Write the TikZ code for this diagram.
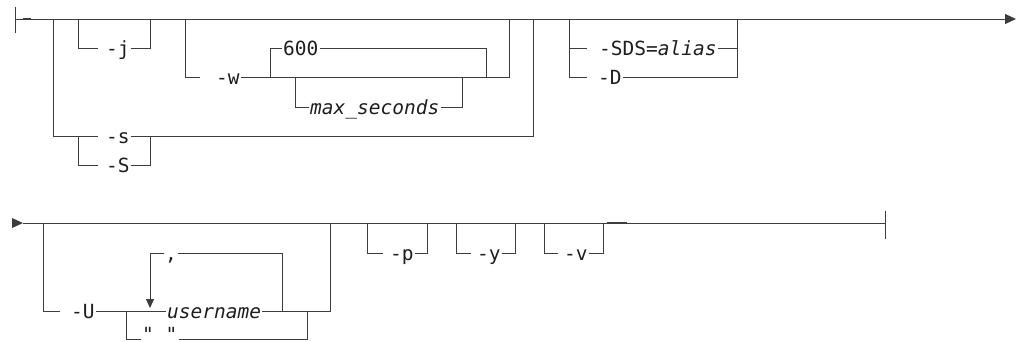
\documentclass[tikz,border=0pt]{standalone}
\usepackage{fontspec}
\setmonofont{DejaVu Sans Mono}
\usepackage{tikz}
\usetikzlibrary{arrows.meta, positioning, calc}
\definecolor{rline}{HTML}{3C3C3C}
\definecolor{rtext}{HTML}{1E1E1E}
\tikzset{
  rail/.style={draw=rline, line width=1pt},
  tok/.style={font=\ttfamily\fontsize{19.5}{22}\selectfont, text=rtext, anchor=west,
    inner xsep=1pt, inner ysep=0pt, text height=14pt, text depth=0pt},
  var/.style={tok, font=\ttfamily\itshape\fontsize{19.5}{22}\selectfont},
}
% flag text with the usual gap before the dash
\newcommand{\flg}[2][7]{\hspace*{#1pt}#2}

\begin{document}
\begin{tikzpicture}[x=1pt, y=-1pt]
  \useasboundingbox (0,0) rectangle (1021,341);

  % ---- first line
  \coordinate (r1) at (15,19);
  \coordinate (e1) at (1016,19);
  \draw[rail] (r1) ++(0,-12) -- ++(0,26);
  \draw[rail, -{Triangle[length=11pt, width=10pt]}] (r1) -- (e1);
  \draw[rline, line width=2pt] (23,19) -- (31,19);
  \foreach \n/\x in {a1/53, a2/78, a3/150, a4/185, a5/509, a6/533, a7/569, a8/737}
    \coordinate (\n) at (\x,19);

  \node[tok] (j) at (98,48) {\flg{-j}};
  \node[tok] (s) at (98,136) {\flg{-s}};
  \node[tok] (S) at (98,165) {\flg{-S}};
  \node[tok] (w) at (200,77) {\flg[15]{-w}};
  \node[tok] (dflt) at (282,48) {600};
  \node[var] (maxs) at (309,107) {max\_seconds};
  \node[tok] (sds) at (587,48) {\flg[11]{-SDS=\textit{alias}}};
  \node[tok] (D) at (587,77) {\flg[10]{-D}};
  \coordinate (b1) at (78,136);
  \coordinate (b2) at (150,136);
  \foreach \n/\x in {c1/270, c2/295, c3/462, c4/486, c5/509}
    \coordinate (\n) at (\x,77);

  \draw[rail] (a2) |- (j.west);
  \draw[rail] (j.east) -| (a3);
  \draw[rail] (a1) |- (s.west);
  \draw[rail] (s.east) -| (a6);
  \draw[rail] (b1) |- (S.west);
  \draw[rail] (S.east) -| (b2);
  \draw[rail] (a4) |- (w.west);
  \draw[rail] (w.east) -- (c5) -- (a5);
  \draw[rail] (c1) |- (dflt.west);
  \draw[rail] (dflt.east) -| (c4);
  \draw[rail] (c2) |- (maxs.west);
  \draw[rail] (maxs.east) -| (c3);
  \draw[rail] (a7) |- (sds.west);
  \draw[rail] (a7) |- (D.west);
  \draw[rail] (sds.east) -| (a8);
  \draw[rail] (D.east) -| (a8);

  % ---- second line
  \coordinate (r2) at (23,223);
  \coordinate (e2) at (885,223);
  \fill[rline] (r2) -- ++(-11,-5) -- ++(0,10) -- cycle;
  \draw[rail] (r2) -- (e2);
  \draw[rail] (e2) ++(0,-12) -- ++(0,28);
  \draw[rline, line width=2pt] (607,223) -- (627,223);
  \foreach \n/\x in {d1/43, d2/330, d3/367, d4/427, d5/456, d6/515, d7/544, d8/603}
    \coordinate (\n) at (\x,223);

  \node[tok] (U) at (60,311) {\flg[10]{-U}};
  \node[var] (user) at (166,311) {username};
  \node[tok] (sep) at (164,253) {,};
  \node[tok, text height=4pt] (blank) at (141,339) {\symbol{34}~\symbol{34}};
  \node[tok] (p) at (383,253) {\flg[6]{-p}};
  \node[tok] (y) at (471,253) {\flg[5]{-y}};
  \node[tok] (v) at (558,253) {\flg[5]{-v}};
  \coordinate (f1) at (126,311);
  \coordinate (f2) at (282,311);
  \coordinate (f3) at (307,311);
  \coordinate (f4) at (150,308);

  \draw[rail] (d1) |- (U.west);
  \draw[rail] (U.east) -- (user.west);
  \draw[rail] (user.east) -| (d2);
  \draw[rail] (f2) |- (sep.east);
  \draw[rail, -{Triangle[length=9pt, width=8pt]}] (sep.west) -| (f4);
  \draw[rail] (f1) |- (blank.west);
  \draw[rail] (blank.east) -| (f3);
  \draw[rail] (d3) |- (p.west);
  \draw[rail] (p.east) -| (d4);
  \draw[rail] (d5) |- (y.west);
  \draw[rail] (y.east) -| (d6);
  \draw[rail] (d7) |- (v.west);
  \draw[rail] (v.east) -| (d8);
\end{tikzpicture}
\end{document}
